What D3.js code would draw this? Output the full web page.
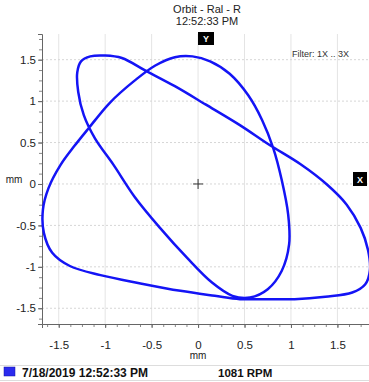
<!DOCTYPE html>
<html>
<head>
<meta charset="utf-8">
<script src="https://cdn.jsdelivr.net/npm/d3@7"></script>
<style>
  body { margin: 0; background: #fff; }
  svg { display: block; font-family: "Liberation Sans", Arial, sans-serif; }
</style>
</head>
<body>
<svg id="chart" width="369" height="382"></svg>
<script>
// orbit plot, 1X..3X filtered, values in mm

const TITLE = ["Orbit - Ral - R", "12:52:33 PM"];
const FILTER_LABEL = "Filter: 1X .. 3X";
const LEGEND_TIME = "7/18/2019 12:52:33 PM";
const LEGEND_RPM = "1081 RPM";
const UNIT = "mm";

const xTicks = [-1.5, -1, -0.5, 0, 0.5, 1, 1.5];
const yTicks = [-1.5, -1, -0.5, 0, 0.5, 1, 1.5];

// traced orbit points (mm)
const orbitX = [-1.30, -1.26, -1.16, -1.00, -0.82, -0.57, -0.25, 0.08, 0.45, 0.77,
  1.10, 1.39, 1.60, 1.75, 1.83, 1.85, 1.80, 1.66, 1.37, 1.04,
  0.72, 0.45, 0.18, -0.19, -0.62, -1.05, -1.38, -1.57, -1.66, -1.67,
  -1.61, -1.48, -1.33, -1.18, -0.95, -0.68, -0.46, -0.25, -0.06, 0.13,
  0.34, 0.54, 0.69, 0.81, 0.90, 0.97, 0.98, 0.90, 0.75, 0.56,
  0.37, 0.15, -0.12, -0.41, -0.68, -0.91, -1.11, -1.23, -1.29];
const orbitY = [1.35, 1.48, 1.54, 1.55, 1.52, 1.37, 1.18, 0.96, 0.71, 0.47,
  0.24, -0.01, -0.25, -0.53, -0.80, -1.04, -1.21, -1.31, -1.36, -1.39,
  -1.39, -1.39, -1.35, -1.29, -1.20, -1.10, -0.99, -0.83, -0.59, -0.31,
  -0.05, 0.23, 0.46, 0.67, 0.98, 1.25, 1.43, 1.53, 1.54, 1.48,
  1.33, 1.07, 0.77, 0.43, 0.05, -0.37, -0.73, -1.05, -1.27, -1.37,
  -1.35, -1.19, -0.89, -0.53, -0.16, 0.23, 0.55, 0.83, 1.11];

const orbit = orbitX.map((x, i) => [x, orbitY[i]]);

const svg = d3.select("#chart");
const plotLeft = 42, plotRight = 369, plotTop = 34, plotBottom = 324;
const blue = "#1414f5";

const x = d3.scaleLinear().domain([-1.68, 1.84]).range([plotLeft, plotRight]);
const y = d3.scaleLinear().domain([-1.69, 1.81]).range([plotBottom, plotTop]);

// title
svg.append("g")
  .attr("text-anchor", "middle")
  .attr("font-size", 11)
  .attr("fill", "#222")
  .selectAll("text")
  .data(TITLE)
  .join("text")
    .attr("x", 207)
    .attr("y", (d, i) => 13 + i * 12)
    .text(d => d);

// grid
const grid = svg.append("g");
grid.selectAll(".vg")
  .data(xTicks)
  .join("line")
    .attr("x1", d => x(d)).attr("x2", d => x(d))
    .attr("y1", plotTop).attr("y2", plotBottom)
    .attr("stroke", "#e4e4e4");
grid.selectAll(".hg")
  .data(yTicks)
  .join("line")
    .attr("x1", plotLeft).attr("x2", plotRight)
    .attr("y1", d => y(d)).attr("y2", d => y(d))
    .attr("stroke", "#d6d6d6")
    .attr("stroke-dasharray", "2,2");

// axes
const minorX = d3.range(-1.625, 1.84, 0.125);
const minorY = d3.range(-1.625, 1.81, 0.125);
const fmt = d => String(d);

svg.append("g")
  .attr("transform", `translate(0,${plotBottom})`)
  .call(d3.axisBottom(x).tickValues(minorX).tickSize(3).tickFormat(""))
  .call(g => g.select(".domain").remove())
  .call(g => g.selectAll("line").attr("stroke", "#888"));
svg.append("g")
  .attr("transform", `translate(${plotLeft},0)`)
  .call(d3.axisLeft(y).tickValues(minorY).tickSize(3).tickFormat(""))
  .call(g => g.select(".domain").remove())
  .call(g => g.selectAll("line").attr("stroke", "#888"));

svg.append("g")
  .attr("transform", `translate(0,${plotBottom})`)
  .call(d3.axisBottom(x).tickValues(xTicks).tickSize(4).tickPadding(13).tickFormat(fmt))
  .call(g => g.select(".domain").attr("stroke", "#666"))
  .call(g => g.selectAll("line").attr("stroke", "#666"))
  .call(g => g.selectAll("text").attr("font-size", 11.5).attr("fill", "#222"))
  .attr("font-family", null);
svg.append("g")
  .attr("transform", `translate(${plotLeft},0)`)
  .call(d3.axisLeft(y).tickValues(yTicks).tickSize(4).tickPadding(2).tickFormat(fmt))
  .call(g => g.select(".domain").attr("stroke", "#666"))
  .call(g => g.selectAll("line").attr("stroke", "#666"))
  .call(g => g.selectAll("text").attr("font-size", 11.5).attr("fill", "#222"))
  .attr("font-family", null);

// unit labels
svg.append("text").attr("x", x(0)).attr("y", 359)
  .attr("text-anchor", "middle").attr("font-size", 10).attr("fill", "#222").text(UNIT);
svg.append("text").attr("x", 14).attr("y", 183)
  .attr("text-anchor", "middle").attr("font-size", 10).attr("fill", "#222").text(UNIT);

// crosshair at origin
svg.append("path")
  .attr("d", `M${x(0) - 5},${y(0)}h10M${x(0)},${y(0) - 5}v10`)
  .attr("stroke", "#333").attr("stroke-width", 1);

// filter label
svg.append("text").attr("x", 292).attr("y", 57)
  .attr("font-size", 9).attr("fill", "#333").text(FILTER_LABEL);

// axis direction markers
const markers = [
  { label: "Y", px: 206, py: 32, w: 16, h: 13 },
  { label: "X", px: 360, py: 172, w: 14, h: 14 }
];
const mk = svg.append("g").selectAll("g").data(markers).join("g")
  .attr("transform", d => `translate(${d.px},${d.py})`);
mk.append("rect").attr("x", d => -d.w / 2).attr("y", 0)
  .attr("width", d => d.w).attr("height", d => d.h).attr("fill", "#000");
mk.append("text").attr("text-anchor", "middle").attr("y", d => d.h / 2 + 3.5)
  .attr("font-size", 9).attr("font-weight", "bold").attr("fill", "#fff")
  .text(d => d.label);

// orbit
svg.append("path")
  .datum(orbit)
  .attr("fill", "none")
  .attr("stroke", blue)
  .attr("stroke-width", 2.5)
  .attr("stroke-linejoin", "round")
  .attr("d", d3.line().x(d => x(d[0])).y(d => y(d[1])).curve(d3.curveCatmullRomClosed.alpha(0.5)));

// legend row
svg.append("line").attr("x1", 0).attr("x2", 369).attr("y1", 365.5).attr("y2", 365.5).attr("stroke", "#ddd");
svg.append("line").attr("x1", 0).attr("x2", 369).attr("y1", 380.5).attr("y2", 380.5).attr("stroke", "#ddd");
svg.append("rect").attr("x", 4).attr("y", 367).attr("width", 11).attr("height", 9)
  .attr("fill", "#2a2aee").attr("stroke", "#1414a0").attr("stroke-width", 0.5);
svg.append("text").attr("x", 22).attr("y", 377)
  .attr("font-size", 12).attr("font-weight", "bold").attr("fill", "#111").text(LEGEND_TIME);
svg.append("text").attr("x", 218).attr("y", 377)
  .attr("font-size", 11.5).attr("font-weight", "bold").attr("fill", "#111").text(LEGEND_RPM);
</script>
</body>
</html>
